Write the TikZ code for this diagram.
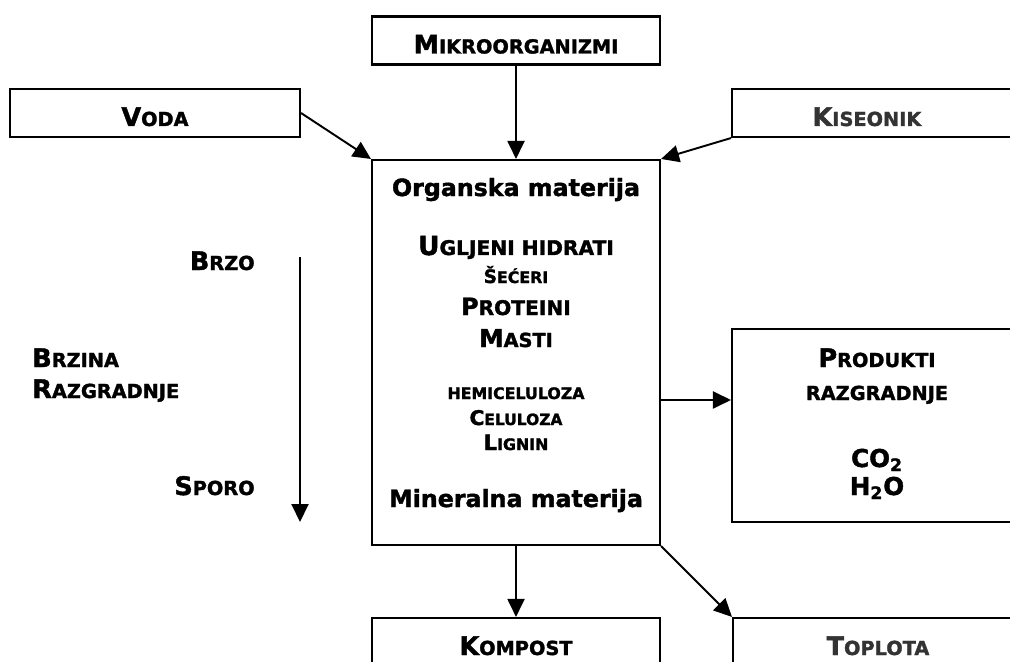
\documentclass[tikz,border=0pt]{standalone}
\usepackage{fontspec}
\setmainfont{DejaVu Sans}[BoldFeatures={FakeBold=1.6}]
\usepackage{tikz}
\usetikzlibrary{arrows.meta,positioning,calc}
\definecolor{cGrayText}{HTML}{333333}
% fake small caps: big first letter, smaller rest
\newcommand{\scw}[4]{{\fontsize{#1}{#1}\selectfont #3}{\fontsize{#2}{#2}\selectfont #4}}
\newcommand{\hdw}[2]{\scw{14.5pt}{11pt}{#1}{#2}}
\newcommand{\mixw}[1]{{\fontsize{13.5pt}{16pt}\selectfont #1}}

\begin{document}
\begin{tikzpicture}[
  x=0.02cm, y=-0.02cm,
  box/.style={
    rectangle, draw=black, line width=1.2pt, fill=white,
    inner sep=0, font=\bfseries
  },
  hdbox/.style={
    box, minimum height=0.96cm,
    text height=0.52cm, text depth=0pt
  },
  lbl/.style={inner sep=0, anchor=base, font=\bfseries},
  arr/.style={-{Triangle[length=0.36cm,width=0.34cm]}, line width=1.1pt},
]
\clip (0,0) rectangle (1010,662);
\fill[white] (0,0) rectangle (1010,662);
% Inputs
\node[hdbox,minimum width=5.76cm] (mik) at (516,40.5) {\hdw{M}{IKROORGANIZMI}};
\node[hdbox,minimum width=5.8cm]  (voda) at (155,113) {\hdw{V}{ODA}};
\node[hdbox,minimum width=5.8cm,text=cGrayText] (kis) at (877,113) {\hdw{K}{ISEONIK}\hspace*{0.4cm}};
% Center
\node[box,minimum width=5.76cm,minimum height=7.7cm] (org) at (516,352.5) {};
\node[lbl] (om)  at (516,196) {\mixw{Organska materija}};
\node[lbl] (uh)  at (516,255) {\scw{15pt}{11.5pt}{U}{GLJENI HIDRATI}};
\node[lbl] (sec) at (516,283) {\scw{10.5pt}{9pt}{Š}{EĆERI}};
\node[lbl] (pro) at (516,315) {\scw{13.5pt}{11.5pt}{P}{ROTEINI}};
\node[lbl] (mas) at (516,347) {\scw{14pt}{11pt}{M}{ASTI}};
\node[lbl] (hem) at (516,399) {\scw{9pt}{9pt}{}{HEMICELULOZA}};
\node[lbl] (cel) at (516,425) {\scw{11.5pt}{8.8pt}{C}{ELULOZA}};
\node[lbl] (lig) at (516,450) {\scw{12pt}{9pt}{L}{IGNIN}};
\node[lbl] (mm)  at (516,507) {\mixw{Mineralna materija}};
% Outputs
\node[box,minimum width=5.8cm,minimum height=3.86cm] (prod) at (877,425.5) {};
\node[lbl] (pr1) at (877,367) {\hdw{P}{RODUKTI}};
\node[lbl] (pr2) at (877,400) {\scw{11pt}{11pt}{}{RAZGRADNJE}};
\node[lbl] (co)  at (877,467) {\fontsize{14pt}{16pt}\selectfont CO\textsubscript{2}};
\node[lbl] (ho)  at (877,495) {\fontsize{14pt}{16pt}\selectfont H\textsubscript{2}O};
\node[hdbox,minimum width=5.76cm] (komp) at (516,642) {\hdw{K}{OMPOST}};
\node[hdbox,minimum width=5.8cm,text=cGrayText] (topl) at (878,642) {\hdw{T}{OPLOTA}};
% Speed scale
\node[lbl,anchor=base east] (brzo)  at (255,270) {\hdw{B}{RZO}};
\node[lbl,anchor=base west] (brz)   at (32,367)  {\hdw{B}{RZINA}};
\node[lbl,anchor=base west] (razg)  at (32,398)  {\hdw{R}{AZGRADNJE}};
\node[lbl,anchor=base east] (sporo) at (255,495) {\hdw{S}{PORO}};
\coordinate (st) at (300,257);
\coordinate (sb) at (300,522);
% Arrows
\draw[arr] (mik.south) -- (org.north);
\draw[arr] (voda.east) -- (org.north west);
\draw[arr] (kis.south west) -- (org.north east);
\draw[arr] ([yshift=-0.95cm]org.east) -- ([yshift=-0.95cm]org.east -| prod.west);
\draw[arr] (org.south) -- (komp.north);
\draw[arr] (org.south east) -- (topl.north west);
\draw[arr] (st) -- (sb);
\end{tikzpicture}
\end{document}
